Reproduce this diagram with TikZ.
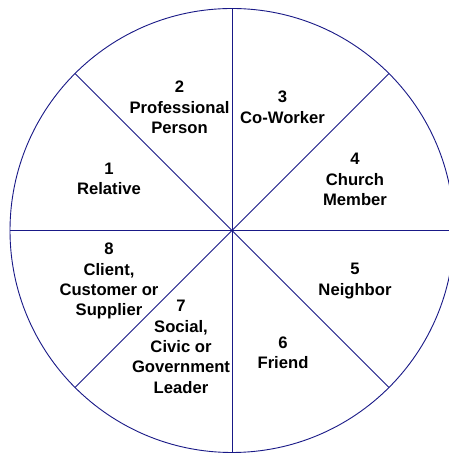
\documentclass[tikz,border=0pt]{standalone}
\usepackage{fontspec}
\setmainfont{Liberation Sans}
\usepackage{xcolor}
\usepackage{tikz}
\usetikzlibrary{positioning}

\definecolor{wheelblue}{RGB}{25,25,135}

\begin{document}
\begin{tikzpicture}[
    x=1bp, y=1bp,
    rim/.style={draw=wheelblue, line width=0.9bp},
    spoke/.style={draw=wheelblue, line width=0.9bp},
    sector/.style={align=center, inner sep=0pt, font=\fontsize{16.7}{20.5}\selectfont\bfseries, text=black},
]
\clip (0,0) rectangle (449,453);
\fill[white] (0,0) rectangle (449,453);
\coordinate (hub) at (232,222.5);
% outer ring and the eight spokes
\draw[rim] (hub) circle[radius=222];
\foreach \a in {0,45,...,315}
  \draw[spoke] (hub) -- ++(\a:222);
% sector labels
\node[sector] (relative) at (109,274) {1\\Relative};
\node[sector] (professional) at (179.5,345.5) {2\\Professional\\Person};
\node[sector] (coworker) at (282.5,345.7) {3\\Co-Worker};
\node[sector] (church) at (355,273.4) {4\\Church\\Member};
\node[sector] (neighbor) at (355,171.8) {5\\Neighbor};
\node[sector] (friend) at (283,100) {6\\Friend};
\node[sector] (leader) at (181,106.2) {7\\Social,\\Civic or\\Government\\Leader};
\node[sector] (client) at (109,171.8) {8\\Client,\\Customer or\\Supplier};
\end{tikzpicture}
\end{document}
